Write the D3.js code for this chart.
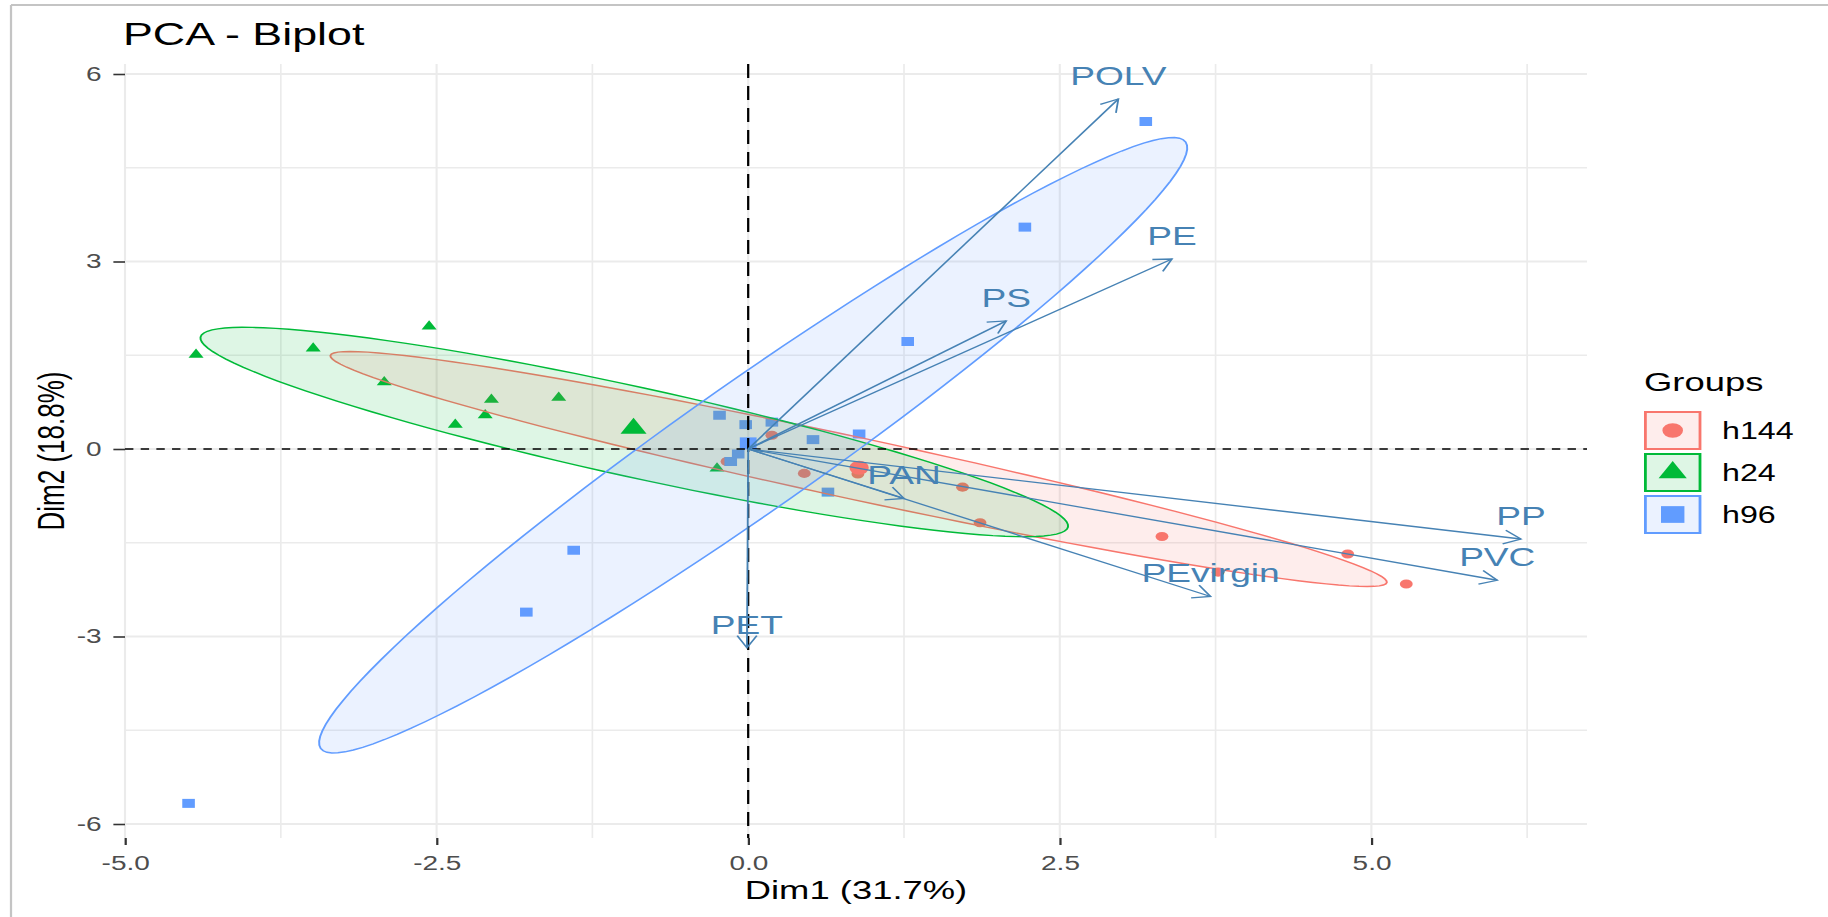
<!DOCTYPE html>
<html><head><meta charset="utf-8">
<script src="https://cdn.jsdelivr.net/npm/d3@7"></script>
<style>
html,body{margin:0;padding:0;background:#fff;overflow:hidden}
svg{display:block}
text{font-family:"Liberation Sans",Arial,sans-serif}
</style></head><body>
<svg id="chart"></svg>
<script>
// ---------------- data ----------------
const groups = ["h144", "h24", "h96"];
const groupColors = ["#F8766D", "#00BA38", "#619CFF"];
const groupShapes = ["circle", "triangle", "square"];

const h144X = [5.28, 4.81, 3.32, 3.77, 1.86, 1.72, 0.45, 0.88, 0.19, -0.17];
const h144Y = [-2.16, -1.68, -1.40, -1.97, -1.18, -0.61, -0.39, -0.40, 0.22, -0.20];

const h24X = [-4.43, -3.49, -2.56, -2.92, -2.35, -2.11, -2.06, -1.52, -0.25];
const h24Y = [1.51, 1.61, 1.96, 1.07, 0.39, 0.54, 0.79, 0.82, -0.31];

const h96X = [3.19, 2.22, 1.28, -0.23, -0.02, 0.19, 0.52, 0.89, 0.64, -1.40, -1.78, -4.49, -0.08, -0.14];
const h96Y = [5.24, 3.55, 1.72, 0.54, 0.39, 0.43, 0.15, 0.24, -0.69, -1.62, -2.61, -5.67, -0.08, -0.20];

// group mean points
const meanX = [0.89, -0.92, 0.00];
const meanY = [-0.30, 0.33, 0.09];

// concentration ellipses: centre + two conjugate semi-diameters (data units)
const ellCX = [0.886, -0.914, 0.04];
const ellCY = [-0.32, 0.272, 0.06];
const ellAX = [4.238, 3.48, 3.47];
const ellAY = [-1.816, -1.52, 4.85];
const ellBX = [-0.052, -0.077, 0.298];
const ellBY = [-0.485, -0.704, -0.851];

// variables (arrows)
const varNames = ["POLV", "PE", "PS", "PP", "PVC", "PEvirgin", "PAN", "PET"];
const varX = [2.97, 3.40, 2.07, 6.20, 6.01, 3.71, 1.25, -0.01];
const varY = [5.60, 3.04, 2.05, -1.44, -2.10, -2.36, -0.79, -3.18];

// axes
const xDomain = [-5, 6.73];
const yDomain = [-6.224, 6.16];
const xTicks = [-5, -2.5, 0, 2.5, 5];
const xTickLabels = ["-5.0", "-2.5", "0.0", "2.5", "5.0"];
const xMinor = [-3.75, -1.25, 1.25, 3.75, 6.25];
const yTicks = [-6, -3, 0, 3, 6];
const yTickLabels = ["-6", "-3", "0", "3", "6"];
const yMinor = [-4.5, -1.5, 1.5, 4.5];

const titleText = "PCA - Biplot";
const xTitle = "Dim1 (31.7%)";
const yTitle = "Dim2 (18.8%)";
const legendTitle = "Groups";

// ---------------- layout ----------------
const SX = 1.4;                 // the reference is stretched horizontally
const W = 1828 / SX, H = 917;
const svg = d3.select("#chart")
  .attr("width", 1828).attr("height", 917)
  .attr("viewBox", `0 0 ${W} ${H}`)
  .attr("preserveAspectRatio", "none");

const panel = { left: 125 / SX, right: 1587 / SX, top: 64, bottom: 838 };
const x = d3.scaleLinear().domain(xDomain).range([panel.left, panel.right]);
const y = d3.scaleLinear().domain(yDomain).range([panel.bottom, panel.top]);

// outer frame
svg.append("line").attr("x1", 11 / SX).attr("x2", W).attr("y1", 5).attr("y2", 5)
  .attr("stroke", "#C4C4C4").attr("stroke-width", 2);
svg.append("line").attr("x1", 11 / SX).attr("x2", 11 / SX).attr("y1", 5).attr("y2", H)
  .attr("stroke", "#C4C4C4").attr("stroke-width", 1.6);

svg.append("defs").append("clipPath").attr("id", "clip")
  .append("rect").attr("x", panel.left).attr("y", panel.top)
  .attr("width", panel.right - panel.left).attr("height", panel.bottom - panel.top);

// grid
const grid = svg.append("g");
grid.selectAll(".vmin").data(xMinor).join("line")
  .attr("x1", d => x(d)).attr("x2", d => x(d)).attr("y1", panel.top).attr("y2", panel.bottom)
  .attr("stroke", "#EBEBEB").attr("stroke-width", 1.2);
grid.selectAll(".hmin").data(yMinor).join("line")
  .attr("y1", d => y(d)).attr("y2", d => y(d)).attr("x1", panel.left).attr("x2", panel.right)
  .attr("stroke", "#EBEBEB").attr("stroke-width", 1.4);
grid.selectAll(".vmaj").data(xTicks).join("line")
  .attr("x1", d => x(d)).attr("x2", d => x(d)).attr("y1", panel.top).attr("y2", panel.bottom)
  .attr("stroke", "#EBEBEB").attr("stroke-width", 1.5);
grid.selectAll(".hmaj").data(yTicks).join("line")
  .attr("y1", d => y(d)).attr("y2", d => y(d)).attr("x1", panel.left).attr("x2", panel.right)
  .attr("stroke", "#EBEBEB").attr("stroke-width", 2);

// axes
const xAxis = d3.axisBottom(x).tickValues(xTicks)
  .tickFormat((d, i) => xTickLabels[i]).tickSize(7).tickPadding(11);
const gx = svg.append("g").attr("transform", `translate(0,${panel.bottom})`).call(xAxis);
const yAxis = d3.axisLeft(y).tickValues(yTicks)
  .tickFormat((d, i) => yTickLabels[i]).tickSize(8.3).tickPadding(8.4);
const gy = svg.append("g").attr("transform", `translate(${panel.left},0)`).call(yAxis);
[gx, gy].forEach(g => {
  g.select(".domain").remove();
  g.selectAll(".tick line").attr("stroke", "#333333").attr("stroke-width", 1.6);
  g.selectAll(".tick text").attr("fill", "#4D4D4D").attr("font-size", 20)
    .attr("font-family", "Liberation Sans, Arial, sans-serif");
});

const plot = svg.append("g").attr("clip-path", "url(#clip)");

const symType = { circle: d3.symbolCircle, triangle: d3.symbolTriangle, square: d3.symbolSquare };
const ptSize = { circle: 66, triangle: 50, square: 81 };
const meanSize = { circle: 150, triangle: 150, square: 144 };

const groupX = [h144X, h24X, h96X];
const groupY = [h144Y, h24Y, h96Y];

// individual points
groups.forEach((g, gi) => {
  const pts = groupX[gi].map((v, i) => [v, groupY[gi][i]]);
  plot.append("g").selectAll("path").data(pts).join("path")
    .attr("transform", d => `translate(${x(d[0])},${y(d[1])})`)
    .attr("d", d3.symbol().type(symType[groupShapes[gi]]).size(ptSize[groupShapes[gi]]))
    .attr("fill", groupColors[gi]);
});

// ellipses
const ellLine = d3.line().x(d => x(d[0])).y(d => y(d[1])).curve(d3.curveLinearClosed);
groups.forEach((g, gi) => {
  const pts = d3.range(0, 360, 3).map(deg => {
    const t = deg * Math.PI / 180;
    return [ellCX[gi] + ellAX[gi] * Math.cos(t) + ellBX[gi] * Math.sin(t),
            ellCY[gi] + ellAY[gi] * Math.cos(t) + ellBY[gi] * Math.sin(t)];
  });
  plot.append("path").attr("d", ellLine(pts))
    .attr("fill", groupColors[gi]).attr("fill-opacity", 0.13)
    .attr("stroke", groupColors[gi]).attr("stroke-width", 1.4);
});

// mean points
groups.forEach((g, gi) => {
  plot.append("path")
    .attr("transform", `translate(${x(meanX[gi])},${y(meanY[gi])})`)
    .attr("d", d3.symbol().type(symType[groupShapes[gi]]).size(meanSize[groupShapes[gi]]))
    .attr("fill", groupColors[gi]);
});

// reference dashed lines
plot.append("line").attr("x1", panel.left).attr("x2", panel.right)
  .attr("y1", y(0)).attr("y2", y(0))
  .attr("stroke", "#000").attr("stroke-width", 1.6).attr("stroke-dasharray", "6,5.2");
plot.append("line").attr("x1", x(0)).attr("x2", x(0))
  .attr("y1", panel.top).attr("y2", panel.bottom)
  .attr("stroke", "#000").attr("stroke-width", 1.6).attr("stroke-dasharray", "14,8");

// variable arrows
const arrowColor = "#4682B4";
const ag = svg.append("g");
varNames.forEach((n, i) => {
  const x0 = x(0), y0 = y(0), x1 = x(varX[i]), y1 = y(varY[i]);
  const ang = Math.atan2(y1 - y0, x1 - x0);
  const L = 14, a = Math.PI / 6;
  const p1 = [x1 - L * Math.cos(ang - a), y1 - L * Math.sin(ang - a)];
  const p2 = [x1 - L * Math.cos(ang + a), y1 - L * Math.sin(ang + a)];
  ag.append("line").attr("x1", x0).attr("y1", y0).attr("x2", x1).attr("y2", y1)
    .attr("stroke", arrowColor).attr("stroke-width", 1.3);
  ag.append("path").attr("d", `M${p1[0]},${p1[1]}L${x1},${y1}L${p2[0]},${p2[1]}`)
    .attr("fill", "none").attr("stroke", arrowColor).attr("stroke-width", 1.3);
});
ag.selectAll("text.vl").data(varNames).join("text")
  .attr("x", (d, i) => x(varX[i])).attr("y", (d, i) => y(varY[i]) - 14)
  .attr("text-anchor", "middle").attr("font-size", 26.5).attr("fill", arrowColor)
  .text(d => d);

// titles
svg.append("text").attr("x", 123 / SX).attr("y", 45).attr("font-size", 32)
  .attr("fill", "#000").text(titleText);
svg.append("text").attr("x", (panel.left + panel.right) / 2).attr("y", 899)
  .attr("text-anchor", "middle").attr("font-size", 26).attr("fill", "#000").text(xTitle);
svg.append("text").attr("transform", `translate(${63.5 / SX},${(panel.top + panel.bottom) / 2}) rotate(-90)`)
  .attr("text-anchor", "middle").attr("font-size", 26).attr("fill", "#000").text(yTitle);

// legend
const lg = svg.append("g");
const lx = 1644 / SX;
lg.append("text").attr("x", lx).attr("y", 391).attr("font-size", 26).attr("fill", "#000").text(legendTitle);
const keyW = 41, keyH = 39, keyTop = 411, keyStep = 42;
const legSize = { circle: 170, triangle: 175, square: 280 };
groups.forEach((g, gi) => {
  const ky = keyTop + gi * keyStep;
  lg.append("rect").attr("x", lx + 1).attr("y", ky + 1).attr("width", keyW - 2).attr("height", keyH - 2)
    .attr("fill", groupColors[gi]).attr("fill-opacity", 0.13)
    .attr("stroke", groupColors[gi]).attr("stroke-width", 2);
  lg.append("path").attr("transform", `translate(${lx + keyW / 2},${ky + keyH / 2})`)
    .attr("d", d3.symbol().type(symType[groupShapes[gi]]).size(legSize[groupShapes[gi]]))
    .attr("fill", groupColors[gi]);
  lg.append("text").attr("x", 1722 / SX).attr("y", ky + keyH / 2).attr("dy", "0.36em")
    .attr("font-size", 23).attr("fill", "#000").text(g);
});
</script>
</body></html>
